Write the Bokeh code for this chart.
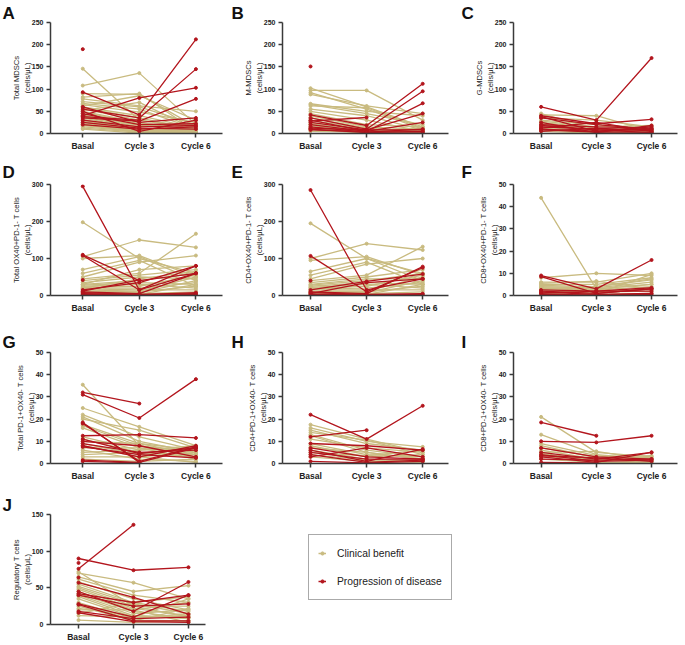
from bokeh.plotting import figure
from bokeh.layouts import column, row
from bokeh.models import Range1d, FixedTicker, Legend, LegendItem
from bokeh.embed import file_html
from bokeh.resources import INLINE

TIMEPOINTS = ["Basal", "Cycle 3", "Cycle 6"]
GROUPS = ["Clinical benefit", "Progression of disease"]
CB_COLOR = "#C9BB80"
PD_COLOR = "#B3151D"
FONT = "Liberation Sans"

# ---- Panel A: Total MDSCs (Basal, Cycle 3, Cycle 6) ----
A_CB = [(146, 30, 10), (108, 136, 20), (90, 88, 15), (82, 90, 5), (78, 62, 50), (72, 60, 20),
        (68, 55, 10), (65, 48, 25), (60, 40, 12), (58, 35, 8), (55, 30, 15), (50, 25, 5),
        (48, 22, 18), (45, 20, 10), (42, 18, 8), (40, 15, 22), (38, 12, 5), (35, 10, 12),
        (32, 8, 3), (30, 6, 15), (28, 5, 7), (25, 4, 10), (22, 3, 2), (20, 2, 5), (18, 8, 4),
        (15, 5, 2), (12, 3, 6), (10, 1, 3), (62, 85, 30), (52, 70, 8)]
A_PD = [(190, None, None), (93, 42, 212), (40, 80, 103), (55, 35, 145), (35, 28, 78),
        (60, 25, 35), (45, 20, 22), (30, 15, 18), (20, 10, 15), (50, 5, 30), (25, 12, 10),
        (38, 30, None)]

# ---- Panel B: M-MDSCs ----
B_CB = [(102, 60, 15), (97, 97, 30), (92, 55, 10), (88, 62, 45), (67, 50, 40), (65, 45, 20),
        (62, 58, 12), (55, 40, 8), (50, 30, 5), (45, 20, 15), (40, 15, 10), (35, 12, 5),
        (30, 10, 8), (25, 8, 3), (22, 6, 12), (20, 5, 6), (18, 4, 2), (15, 3, 10), (12, 2, 4),
        (10, 1, 2), (8, 5, 7), (5, 3, 5)]
B_PD = [(151, None, None), (42, 18, 112), (35, 10, 95), (30, 5, 68), (25, 8, 45), (20, 5, 25),
        (15, 3, 10), (12, 8, 8), (10, 2, 5), (8, 4, 3), (28, 36, None)]

# ---- Panel C: G-MDSCs ----
C_CB = [(45, 10, 5), (42, 40, 5), (35, 30, 15), (30, 20, 10), (28, 15, 18), (25, 12, 8),
        (22, 10, 5), (20, 8, 3), (15, 5, 10), (12, 3, 2), (10, 6, 5), (8, 2, 3), (5, 1, 2)]
C_PD = [(60, 30, 170), (40, 22, 32), (38, 5, 15), (35, 20, 10), (20, 15, 12), (15, 10, 8),
        (12, 25, 5), (10, 5, 10), (8, 3, 3), (5, 12, 6), (18, 8, 2), (25, 2, 18)]

# ---- Panel D: Total OX40+PD-1- T cells ----
D_CB = [(198, 100, 60), (105, 150, 130), (100, 108, 50), (70, 105, 40), (60, 95, 25),
        (50, 90, 108), (45, 60, 167), (40, 55, 70), (35, 50, 45), (30, 40, 60), (28, 35, 30),
        (25, 30, 20), (22, 25, 55), (20, 20, 35), (18, 15, 15), (15, 12, 50), (12, 10, 25),
        (10, 8, 40), (8, 5, 10), (5, 3, 30), (3, 2, 5), (30, 70, 80), (20, 45, 65)]
D_PD = [(295, 15, 60), (110, 40, 60), (108, 15, 80), (42, None, None), (15, 35, 80),
        (10, 5, 60), (5, 2, 8), (8, 3, 5), (3, 1, 3), (12, 42, None)]

# ---- Panel E: CD4+OX40+PD-1- T cells ----
E_CB = [(195, 100, 60), (100, 140, 123), (95, 105, 55), (65, 100, 40), (55, 90, 30),
        (45, 85, 100), (40, 55, 132), (35, 50, 70), (30, 45, 45), (28, 40, 60), (25, 35, 30),
        (22, 30, 20), (20, 25, 55), (18, 20, 35), (15, 15, 15), (12, 12, 50), (10, 10, 25),
        (8, 8, 40), (5, 5, 10), (3, 3, 30)]
E_PD = [(285, 15, 45), (107, 10, 75), (40, None, None), (15, 38, 58), (10, 5, 78),
        (5, 35, 45), (3, 2, 3), (8, 3, 5)]

# ---- Panel F: CD8+OX40+PD-1- T cells ----
F_CB = [(44, 3, 5), (8, 10, 9), (6, 6, 10), (5, 5, 8), (4.5, 4, 7.5), (4, 3.5, 6), (3.5, 3, 5),
        (3, 2.5, 4), (2.5, 2, 3), (2, 1.5, 2), (1.5, 1, 9.5), (1, 0.5, 1), (5.5, 6.5, 3),
        (3, 4, 7)]
F_PD = [(9, 3, 16), (8.5, 1, 3), (2.5, 2, 3.5), (2, 1, 3), (1.5, 0.5, 1), (1, 2, 2),
        (0.5, 0.3, 0.5)]

# ---- Panel G: Total PD-1+OX40- T cells ----
G_CB = [(35.5, 8, 5), (25, 16.5, 8), (22, 12, 6), (21, 10, 5), (20, 15, 7), (17.5, 9, 4),
        (17, 8, 3), (16, 7, 2), (12, 6, 8), (11, 5, 4), (10, 9, 6), (9, 4, 3), (8, 3, 5),
        (7, 7, 4), (6, 2, 1), (5, 6, 7), (4, 5, 3), (3, 3, 0.5), (2, 1, 2)]
G_PD = [(32, 27, None), (31, 20.5, 38), (18.5, 0.5, 7), (18, 1, 7.5), (12.5, 13, 11.5),
        (11, 4.5, 7), (10, 8, 3), (9, 5, 6), (8, 3, 8), (7.5, 4, 2.5), (1.5, 0.5, None),
        (1, 0.3, None)]

# ---- Panel H: CD4+PD-1+OX40- T cells ----
H_CB = [(17.5, 11, 5), (16, 10, 7.5), (15, 9, 6), (14, 10.5, 4), (13, 6, 3), (12.5, 5, 2),
        (11, 7, 5), (9, 4, 3), (8, 3, 4), (7, 5, 2), (6, 2, 1), (5, 3.5, 6), (4, 1.5, 1.5),
        (3, 1, 0.5)]
H_PD = [(22, 11, 26), (12, 15, None), (9, 8, 6), (7, 3, 2), (6, 1, 6.5), (5, 2, 2),
        (4, 0.5, 1.5), (3, 7, 3), (1, 0.3, 1)]

# ---- Panel I: CD8+PD-1+OX40- T cells ----
I_CB = [(21, 5, 3), (13, 4, 2), (9, 3.5, 2.5), (8, 2.5, 1), (7, 3, 3.5), (6, 2, 2),
        (5, 5.5, 1.5), (4.5, 1.5, 0.5), (4, 1, 3), (3, 2, 1), (2, 0.5, 0.5)]
I_PD = [(18.5, 12.5, None), (10, 9.5, 12.5), (7, 3, 2), (5, 2, 5), (4, 1, 1.5),
        (3.5, 2.5, 1), (3, 0.5, 5), (2, 1.5, 2), (0.5, 0.3, None)]

# ---- Panel J: Regulatory T cells ----
J_CB = [(72, 25, 10), (70, 57, 35), (65, 45, 53), (62, 40, 30), (58, 35, 20), (55, 30, 38),
        (52, 28, 15), (50, 25, 25), (48, 22, 12), (45, 20, 30), (42, 18, 8), (40, 15, 20),
        (38, 12, 10), (35, 10, 35), (30, 8, 15), (28, 6, 5), (25, 5, 22), (22, 12, 8),
        (20, 20, 3), (15, 30, 18), (12, 10, 12), (6, 3, 5)]
J_PD = [(76, 136, None), (90, 74, 78), (84, None, None), (64, None, None), (57, 37, 14),
        (45, 18, 58), (42, 30, 40), (40, 25, 28), (28, 10, 40), (27, 5, 5), (18, 8, 10),
        (16, 4, 3)]

LETTERS = ["A", "B", "C", "D", "E", "F", "G", "H", "I", "J"]
YLABELS = ["Total MDSCs", "M-MDSCs", "G-MDSCs",
           "Total OX40+PD-1- T cells", "CD4+OX40+PD-1- T cells", "CD8+OX40+PD-1- T cells",
           "Total PD-1+OX40- T cells", "CD4+PD-1+OX40- T cells", "CD8+PD-1+OX40- T cells",
           "Regulatory T cells"]
UNIT = "(cells/\u03bcL)"
YTICKS_MDSC = [0, 50, 100, 150, 200, 250]
YTICKS_OX40 = [0, 100, 200, 300]
YTICKS_SMALL = [0, 10, 20, 30, 40, 50]
YTICKS_TREG = [0, 50, 100, 150]

AXIS_COLOR = "#3a3a3a"


def make_panel(letter, ylabel, cb, pd, yticks, width, height, left, right, top, bottom,
               xr, standoff):
    p = figure(width=width, height=height, x_range=Range1d(*xr),
               y_range=Range1d(yticks[0], yticks[-1]),
               output_backend="svg", toolbar_location=None, title=letter,
               min_border_left=left, min_border_right=right,
               min_border_top=top, min_border_bottom=bottom)
    for data, color in ((cb, CB_COLOR), (pd, PD_COLOR)):
        xs, ys, px, py = [], [], [], []
        for rec in data:
            pts = [(i, v) for i, v in enumerate(rec) if v is not None]
            if len(pts) > 1:
                xs.append([a for a, _ in pts])
                ys.append([b for _, b in pts])
            px += [a for a, _ in pts]
            py += [b for _, b in pts]
        p.multi_line(xs, ys, line_color=color, line_width=1.3)
        p.scatter(px, py, size=3, marker="circle", fill_color=color, line_color=color)

    p.xgrid.visible = False
    p.ygrid.visible = False
    p.outline_line_color = None
    p.background_fill_color = None
    p.border_fill_color = None

    p.title.align = "left"
    p.title.offset = -(left - 2)
    p.title.standoff = standoff
    p.title.text_font = FONT
    p.title.text_font_size = "17px"
    p.title.text_font_style = "bold"
    p.title.text_color = "#111111"

    p.xaxis.ticker = FixedTicker(ticks=list(range(len(TIMEPOINTS))))
    p.xaxis.major_label_overrides = {i: t for i, t in enumerate(TIMEPOINTS)}
    p.yaxis.ticker = FixedTicker(ticks=yticks)
    for ax in (p.xaxis[0], p.yaxis[0]):
        ax.axis_line_color = AXIS_COLOR
        ax.axis_line_width = 1.5
        ax.major_tick_line_color = AXIS_COLOR
        ax.major_tick_line_width = 1.5
        ax.major_tick_out = 4
        ax.major_tick_in = 0
        ax.minor_tick_line_color = None
        ax.major_label_text_font = FONT
        ax.major_label_text_font_style = "bold"
        ax.major_label_text_color = "#222222"
        ax.major_label_standoff = 3
    p.xaxis.major_label_text_font_size = "8.5px"
    p.yaxis.major_label_text_font_size = "7px"
    p.yaxis.axis_label = ylabel + "\n" + UNIT
    p.yaxis.axis_label_text_font = FONT
    p.yaxis.axis_label_text_font_size = "7.6px"
    p.yaxis.axis_label_text_font_style = "normal"
    p.yaxis.axis_label_text_color = "#222222"
    p.yaxis.axis_label_standoff = -3
    return p


COLS = [dict(width=229, left=50, right=7, xr=(-0.57, 2.47)),
        dict(width=230, left=53, right=11, xr=(-0.5, 2.46)),
        dict(width=225, left=54, right=7, xr=(-0.5, 2.47))]
ROWS = [dict(height=154, top=22, bottom=21, standoff=0),
        dict(height=176, top=30, bottom=35, standoff=5),
        dict(height=162, top=22, bottom=29, standoff=1)]

DATA = [(A_CB, A_PD), (B_CB, B_PD), (C_CB, C_PD), (D_CB, D_PD), (E_CB, E_PD),
        (F_CB, F_PD), (G_CB, G_PD), (H_CB, H_PD), (I_CB, I_PD), (J_CB, J_PD)]
YTICKS = [YTICKS_MDSC] * 3 + [YTICKS_OX40] * 2 + [YTICKS_SMALL] * 4 + [YTICKS_TREG]

grid_rows = []
for r in range(3):
    figs = []
    for c in range(3):
        k = r * 3 + c
        figs.append(make_panel(LETTERS[k], YLABELS[k], DATA[k][0], DATA[k][1], YTICKS[k],
                               COLS[c]["width"], ROWS[r]["height"], COLS[c]["left"],
                               COLS[c]["right"], ROWS[r]["top"], ROWS[r]["bottom"],
                               COLS[c]["xr"], ROWS[r]["standoff"]))
    grid_rows.append(row(*figs, spacing=0))

pj = make_panel(LETTERS[9], YLABELS[9], DATA[9][0], DATA[9][1], YTICKS[9],
                229, 152, 50, 24, 22, 19, (-0.51, 2.31), 0)

# legend panel
NAN = float("nan")
pl = figure(width=455, height=152, x_range=Range1d(0, 1), y_range=Range1d(0, 1),
            output_backend="svg", toolbar_location=None, title=None,
            x_axis_location=None, y_axis_location=None,
            min_border_left=0, min_border_right=0, min_border_top=0, min_border_bottom=0)
pl.xgrid.visible = False
pl.ygrid.visible = False
pl.outline_line_color = None
items = []
for name, color in zip(GROUPS, (CB_COLOR, PD_COLOR)):
    lr = pl.line(x=[NAN], y=[NAN], line_color=color, line_width=1.5)
    sr = pl.scatter(x=[NAN], y=[NAN], size=2.5, marker="circle", fill_color=color, line_color=color)
    items.append(LegendItem(label=name, renderers=[lr, sr]))
legend = Legend(items=items, location=(79, 24), margin=0, padding=9, spacing=10,
                glyph_width=8, glyph_height=18, label_height=18, label_standoff=11,
                label_text_font=FONT, label_text_font_size="10.3px",
                label_text_color="#222222", border_line_color="#555555",
                border_line_width=1, background_fill_alpha=1)
pl.add_layout(legend)

layout = column(*grid_rows, row(pj, pl, spacing=0), spacing=0)

open("out.html", "w").write(file_html(layout, INLINE))
